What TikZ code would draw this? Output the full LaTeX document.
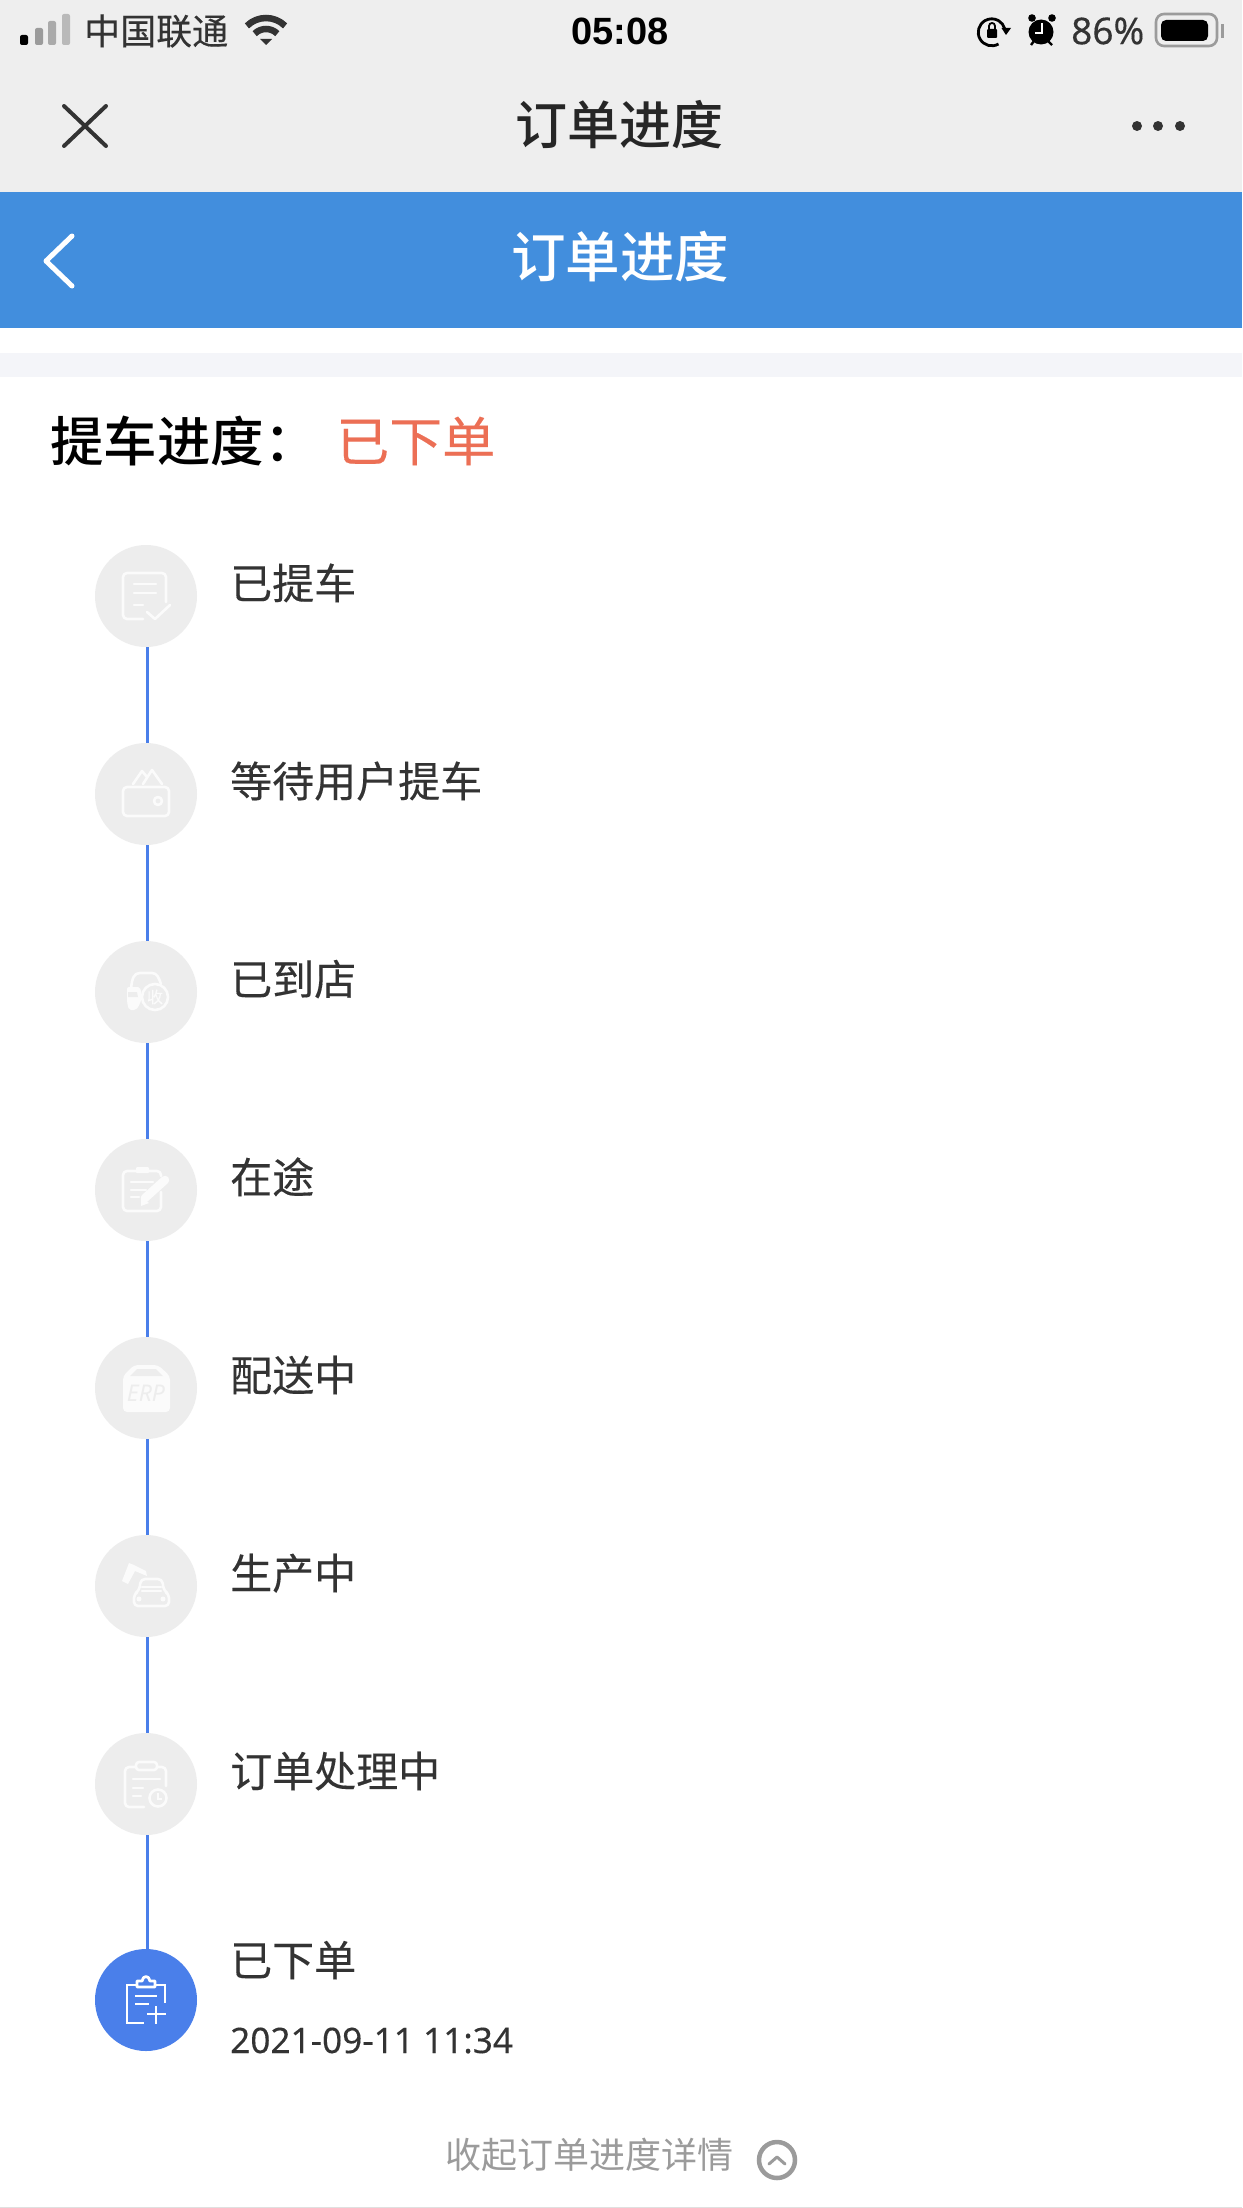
\documentclass[tikz,border=0pt]{standalone}
\usepackage{fontspec}
\setmainfont{Noto Sans}
\newfontfamily\cjk[FakeBold=0.25]{Noto Sans CJK SC}
\newfontfamily\cjklight{Noto Sans CJK SC}
\newfontfamily\cjkm{Noto Sans CJK SC Medium}
\newfontfamily\latbold{Liberation Sans Bold}
\newfontfamily\latreg[FakeBold=0.2]{Noto Sans}
\newcommand{\fsz}[1]{\fontsize{#1}{#1}\selectfont}
\definecolor{topbar}{HTML}{EEEEEE}
\definecolor{hdrblue}{HTML}{428EDD}
\definecolor{band}{HTML}{F4F5F9}
\definecolor{dark}{HTML}{333333}
\definecolor{stepblue}{HTML}{4A7FEA}
\definecolor{stepgrey}{HTML}{EDEDED}
\definecolor{orangered}{HTML}{EC6F55}
\definecolor{midgrey}{HTML}{9B9B9B}
\definecolor{icowhite}{HTML}{FBFBFB}
\tikzset{
  x=1pt,y=-1pt,
  stepdot/.style={circle,fill=stepgrey,minimum size=102pt,inner sep=0pt},
  stepdone/.style={stepdot,fill=stepblue},
  conn/.style={draw=stepblue,line width=3.2pt},
  lbl/.style={anchor=base west,inner sep=0pt,text=dark,font=\cjk\fsz{42}},
  ico/.style={draw=icowhite,line width=2.6pt,line cap=round,line join=round},
  icw/.style={draw=white,line width=2.8pt,line cap=round},
  ttl/.style={inner sep=0pt,font=\cjkm\fsz{52}},
}
\begin{document}
\begin{tikzpicture}
\useasboundingbox (0,0) rectangle (1242,2208);
\fill[white] (0,0) rectangle (1242,2208);
\fill[topbar] (0,0) rectangle (1242,192);
\fill[hdrblue] (0,192) rectangle (1242,328);
\fill[band] (0,353) rectangle (1242,377);
\fill[black!12] (0,2206.5) rectangle (1242,2208);

% status bar
\fill[black,rounded corners=2pt] (20,35) rectangle (28,45);
\fill[midgrey,rounded corners=2pt] (35,28) rectangle (43,45);
\fill[midgrey!85,rounded corners=2pt] (48,21) rectangle (56,45);
\fill[midgrey!70,rounded corners=2pt] (62,14) rectangle (70,45);
\node[anchor=west,inner sep=0pt,text=dark,font=\cjk\fsz{36}] (carrier) at (84,31) {中国联通};
\begin{scope}[shift={(266,45)},line cap=butt]
\draw[dark,line width=6.5pt] (225:27) arc[start angle=225,end angle=315,radius=27];
\draw[dark,line width=6.5pt] (225:16) arc[start angle=225,end angle=315,radius=16];
\fill[dark] (0,0) -- (-6,-6) -- (6,-6) -- cycle;
\end{scope}
\node[inner sep=0pt,font=\latbold\fsz{38}] (clock) at (620,31) {05:08};
% rotation lock
\draw[black,line width=2.8pt] (998.5,44) arc[start angle=60,end angle=345,radius=13.5];
\fill[black] (1001.5,28) -- (1011,28) -- (1006,35) -- cycle;
\fill[black,rounded corners=1pt] (987,29) rectangle (997,38);
\draw[black,line width=1.8pt] (989,29) -- (989,26) .. controls (989,22) and (995,22) .. (995,26) -- (995,29);
% alarm
\fill[black] (1041,32) circle (12.5);
\fill[black] (1032,18) circle (3.8);
\fill[black] (1052,18) circle (3.8);
\draw[black,line width=2.4pt] (1034,41) -- (1031,45) (1048,41) -- (1052,45);
\draw[white,line width=2pt] (1042,23) -- (1042,33) -- (1035,33);
\node[anchor=west,inner sep=0pt,text=dark,font=\latreg\fsz{37}] (battery) at (1071,31) {86\%};
\draw[midgrey,line width=2.6pt,rounded corners=8pt] (1156,14) rectangle (1217,46);
\fill[black,rounded corners=5pt] (1161,20) rectangle (1208,41);
\fill[midgrey] (1221,24) rectangle (1224,38);

% nav bar
\node[ttl,text=black!85] (navtitle) at (619,125) {订单进度};
\draw[dark,line width=4pt,line cap=round] (64,106) -- (106,146);
\draw[dark,line width=4pt,line cap=round] (106,106) -- (64,146);
\fill[dark] (1137,126) circle (5) (1158,126) circle (5) (1180,126) circle (5);

% blue header
\node[ttl,text=white,font=\cjkm\fsz{54.5}] (hdrtitle) at (620,257) {订单进度};
\draw[white,line width=5pt,line cap=round,line join=round] (72,236) -- (46,261) -- (72,286);

% progress heading
\node[anchor=base west,inner sep=0pt,font=\cjkm\fsz{53.5},text=black] (head) at (50,461) {提车进度：};
\node[anchor=base west,inner sep=0pt,font=\cjk\fsz{53},text=orangered] (state) at (336,461) {已下单};

% steps
\node[stepdot] (s1) at (146,596) {};
\node[stepdot] (s2) at (146,794) {};
\node[stepdot] (s3) at (146,992) {};
\node[stepdot] (s4) at (146,1190) {};
\node[stepdot] (s5) at (146,1388) {};
\node[stepdot] (s6) at (146,1586) {};
\node[stepdot] (s7) at (146,1784) {};
\node[stepdone] (s8) at (146,2000) {};
\foreach \a/\b in {s1/s2,s2/s3,s3/s4,s4/s5,s5/s6,s6/s7,s7/s8}
  \draw[conn] ([xshift=1.5pt]\a.south) -- ([xshift=1.5pt]\b.north);

\node[lbl] (t1) at (230,599) {已提车};
\node[lbl] (t2) at (230,797) {等待用户提车};
\node[lbl] (t3) at (230,995) {已到店};
\node[lbl] (t4) at (230,1193) {在途};
\node[lbl] (t5) at (230,1391) {配送中};
\node[lbl] (t6) at (230,1589) {生产中};
\node[lbl] (t7) at (230,1787) {订单处理中};
\node[lbl] (t8) at (230,1976) {已下单};
\node[anchor=base west,inner sep=0pt,text=dark,font=\latreg\fsz{35.2}] (date) at (230,2053) {2021-09-11 11:34};

% icon 1: list with tick
\begin{scope}[shift={(s1.center)}]
\draw[ico,rounded corners=4pt] (-3,23) -- (-23,23) -- (-23,-23) -- (20,-23) -- (20,6);
\draw[ico] (-12,-12) -- (10,-12) (-12,-3) -- (10,-3) (-12,9) -- (-3,9);
\draw[ico] (1,16) -- (9,23) -- (24,9);
\end{scope}
% icon 2: wallet
\begin{scope}[shift={(s2.center)}]
\draw[ico,rounded corners=4pt] (-23,-7) rectangle (23,22);
\draw[ico] (-13,-10) -- (-4,-23) -- (1,-17);
\draw[ico] (-3,-10) -- (6,-24) -- (16,-10);
\draw[ico] (12,7) circle (4);
\end{scope}
% icon 3: car with coin
\begin{scope}[shift={(s3.center)}]
\draw[ico] (-15,-3) .. controls (-14,-14) and (-12,-19) .. (-6,-19) -- (6,-19) .. controls (11,-19) and (13,-14) .. (15,-8);
\fill[icowhite,rounded corners=2pt] (-19,-5) -- (-6,-5) -- (-4,4) -- (-6,12) -- (-10,18) -- (-17,18) -- (-19,10) -- cycle;
\fill[stepgrey] (-18,0) -- (-9,0) -- (-8,5) -- (-18,5) -- cycle;
\draw[ico] (9,5) circle (13);
\node[inner sep=0pt,font=\cjk\fsz{16},text=icowhite] (coin) at (9,5) {收};
\end{scope}
% icon 4: note and pencil
\begin{scope}[shift={(s4.center)}]
\draw[ico,rounded corners=4pt] (15,2) -- (15,21) -- (-23,21) -- (-23,-19) -- (15,-19) -- (15,-14);
\fill[icowhite,rounded corners=1pt] (-10,-23) rectangle (3,-17);
\draw[ico] (-15,-8) -- (7,-8) (-15,0) -- (0,0) (-15,7) -- (-7,7);
\draw[icowhite,line width=8.5pt,line cap=round] (-1,8) -- (19,-10);
\fill[icowhite] (-5,16) -- (-5,6) -- (3,13) -- cycle;
\end{scope}
% icon 5: ERP box
\begin{scope}[shift={(s5.center)}]
\fill[icowhite,rounded corners=4pt] (-23,-12) -- (-12,-23) -- (12,-23) -- (24,-12) -- (24,24) -- (-23,24) -- cycle;
\fill[stepgrey] (-16,-12) -- (-9,-19) -- (10,-19) -- (17,-12) -- cycle;
\node[inner sep=0pt,font=\itshape\bfseries\fsz{23},text=stepgrey] (erp) at (0,5) {ERP};
\end{scope}
% icon 6: robot arm and car
\begin{scope}[shift={(s6.center)}]
\fill[icowhite] (-24,-5) -- (-17,-23) -- (-12,-21) -- (0,-15) -- (1,-10) -- (-11,-15) -- (-18,-2) -- cycle;
\draw[ico,rounded corners=4pt] (-12,20) -- (-12,8) -- (-7,5) -- (-5,-7) -- (16,-7) -- (18,5) -- (23,8) -- (23,20) -- cycle;
\draw[ico] (-4,5) -- (15,5) (-4,1) -- (15,1);
\fill[icowhite] (-7,13) circle (2.5) (17,13) circle (2.5);
\end{scope}
% icon 7: clipboard with clock
\begin{scope}[shift={(s7.center)}]
\draw[ico,rounded corners=4pt] (-2,23) -- (-21,23) -- (-21,-17) -- (20,-17) -- (20,2);
\draw[ico,fill=stepgrey,rounded corners=3pt] (-10,-22) rectangle (11,-14);
\draw[ico] (-13,-5) -- (14,-5) (-13,4) -- (-3,4) (-13,12) -- (-5,12);
\draw[ico,fill=stepgrey] (12,14) circle (8.5);
\draw[draw=icowhite,line width=1.6pt] (12,9) -- (12,15) -- (16,15);
\end{scope}
% icon 8: clipboard with plus
\begin{scope}[shift={(s8.center)}]
\draw[icw,line cap=butt] (-9,-15) -- (-19,-15) -- (-19,23) -- (-2,23);
\draw[icw,line cap=butt] (9,-15) -- (19,-15) -- (19,3);
\draw[icw,line join=round] (-9,-13) -- (-9,-19) -- (-4,-19) .. controls (-3,-25) and (3,-25) .. (4,-19) -- (9,-19) -- (9,-13) -- cycle;
\draw[icw,line cap=butt] (-11,-4) -- (11,-4) (-11,4) -- (3,4);
\draw[icw,line cap=butt] (1,14) -- (20,14) (10,6) -- (10,24);
\end{scope}

% footer
\node[inner sep=0pt,anchor=west,text=midgrey,font=\cjklight\fsz{36}] (collapse) at (445,2155) {收起订单进度详情};
\node[circle,draw=midgrey,line width=4.5pt,minimum size=36pt,inner sep=0pt] (fold) at (777,2160) {};
\draw[midgrey,line width=3pt,line cap=round,line join=round] ([shift={(-8,4)}]fold.center) -- ([shift={(0,-3)}]fold.center) -- ([shift={(8,4)}]fold.center);
\end{tikzpicture}
\end{document}
